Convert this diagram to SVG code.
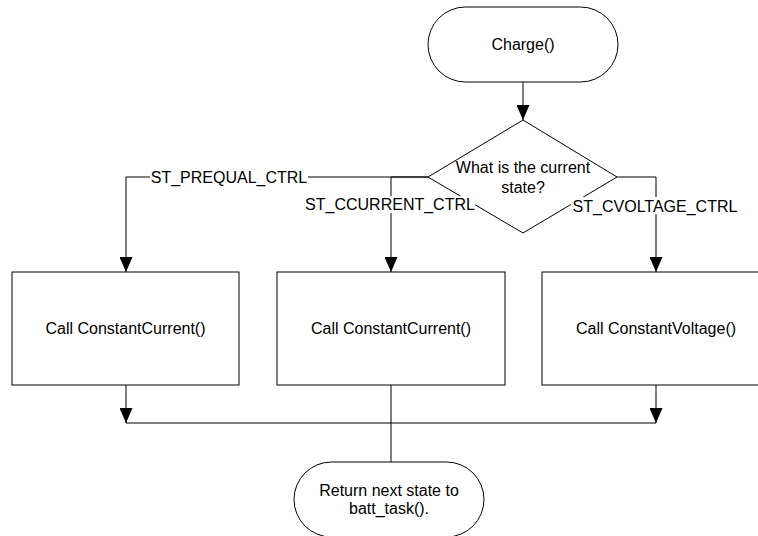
<svg xmlns="http://www.w3.org/2000/svg" width="758" height="536" viewBox="0 0 758 536">
<style>
.shape{fill:#fff;stroke:#000;stroke-width:1}
.line{fill:none;stroke:#000;stroke-width:1}
text{font-family:"Liberation Sans",Arial,sans-serif;font-size:16px;fill:#000;text-anchor:middle;dominant-baseline:central}
.lbl{fill:#fff;stroke:none}
</style>
<defs>
<marker id="arr" viewBox="0 0 15 13" refX="15" refY="6.5" markerWidth="15" markerHeight="13" markerUnits="userSpaceOnUse" orient="auto">
<path d="M0,0 L15,6.5 L0,13 Z" fill="#000"/>
</marker>
</defs>
<rect width="758" height="536" fill="#fff"/>
<g id="start">
<rect class="shape" x="428" y="7" width="190" height="75" rx="37.5" ry="37.5"/>
<text x="523" y="44.5">Charge()</text>
</g>
<g id="decision">
<path class="shape" d="M523,120 L617,177 L523,233 L428,177 Z"/>
<text x="523" y="167">What is the current</text>
<text x="523" y="187">state?</text>
</g>
<g id="box_prequal">
<rect class="shape" x="12" y="272" width="227" height="113"/>
<text x="125.5" y="328.5">Call ConstantCurrent()</text>
</g>
<g id="box_ccurrent">
<rect class="shape" x="277" y="272" width="228" height="113"/>
<text x="391" y="328.5">Call ConstantCurrent()</text>
</g>
<g id="box_cvoltage">
<rect class="shape" x="542" y="272" width="228" height="113"/>
<text x="656" y="328.5">Call ConstantVoltage()</text>
</g>
<g id="end">
<rect class="shape" x="294" y="462" width="190" height="75" rx="37.5" ry="37.5"/>
<text x="389" y="490">Return next state to</text>
<text x="389" y="508">batt_task().</text>
</g>
<g id="connectors">
<path class="line" d="M523,82 V120" marker-end="url(#arr)"/>
<path class="line" d="M428,177 H126 V272" marker-end="url(#arr)"/>
<path class="line" d="M428,177 H391 V272" marker-end="url(#arr)"/>
<path class="line" d="M617,177 H656 V272" marker-end="url(#arr)"/>
<path class="line" d="M126,385 V423" marker-end="url(#arr)"/>
<path class="line" d="M656,385 V423" marker-end="url(#arr)"/>
<path class="line" d="M126,423 H656"/>
<path class="line" d="M391,385 V462"/>
<rect class="lbl" x="150" y="169" width="158" height="17"/>
<text x="229" y="177">ST_PREQUAL_CTRL</text>
<rect class="lbl" x="305" y="196" width="170" height="17"/>
<text x="390" y="204.5">ST_CCURRENT_CTRL</text>
<rect class="lbl" x="571" y="197" width="168" height="17"/>
<text x="655" y="206">ST_CVOLTAGE_CTRL</text>
</g>
</svg>
